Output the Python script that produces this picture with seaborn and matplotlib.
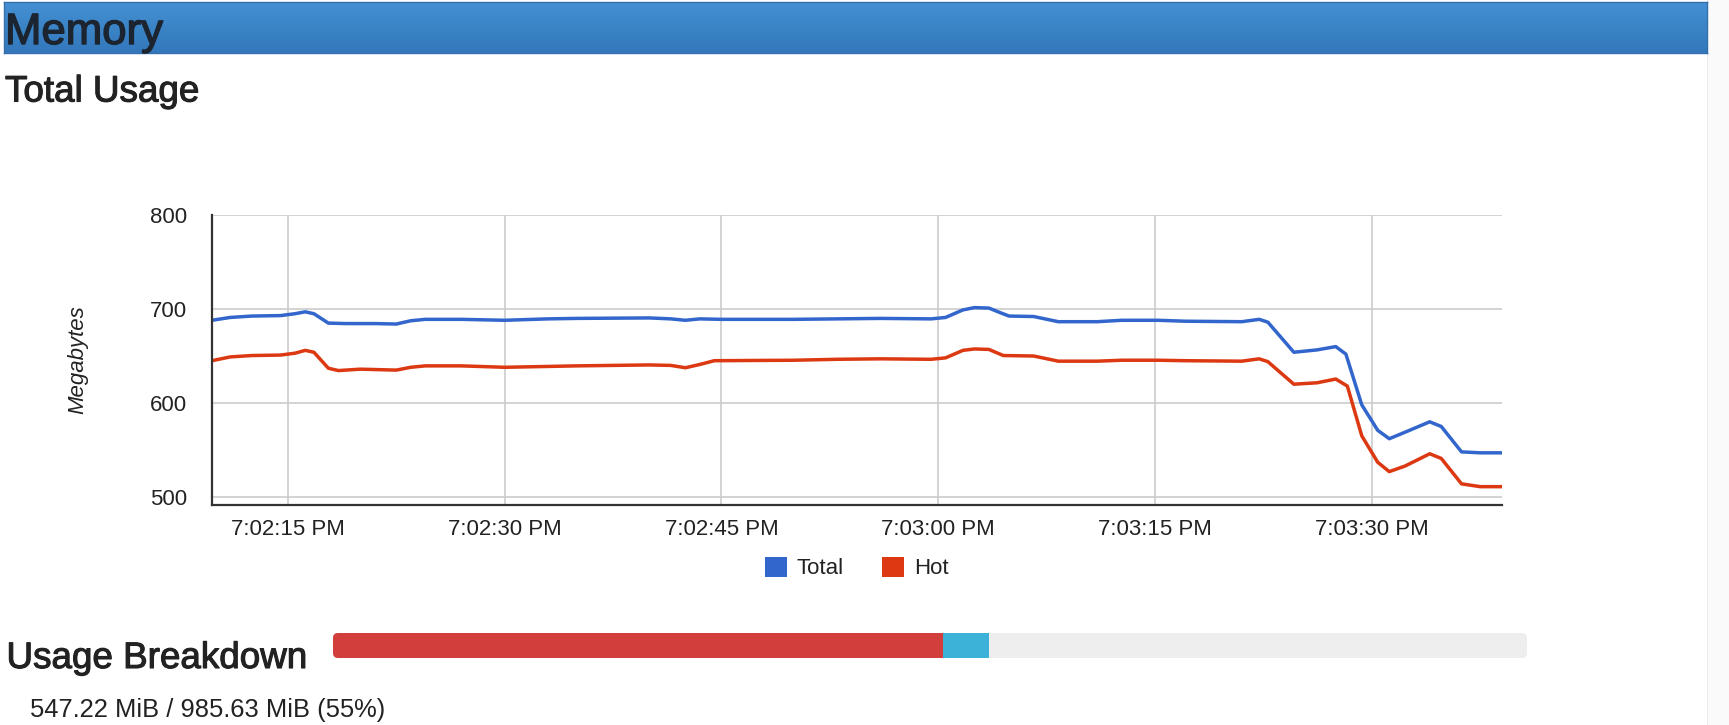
import numpy as np
import pandas as pd
import matplotlib
matplotlib.use("Agg")
import matplotlib.pyplot as plt
from matplotlib.patches import FancyBboxPatch, Patch
from matplotlib.colors import LinearSegmentedColormap
import matplotlib.patheffects as pe
import seaborn as sns

# ---------------- data ----------------
# seconds after 7:02:00 PM
total_secs = [9.75, 11, 12.5, 14.5, 15.5, 16.2, 16.8, 17.8, 19, 21, 22.5, 23.5, 24.5, 27, 30,
              33, 35, 40, 41.5, 42.5, 43.5, 45, 50, 53, 56, 59.5, 60.5, 61.7, 62.5, 63.5,
              64.3, 64.9, 66.6, 68.3, 71, 72.7, 75.2, 77.1, 81, 82.2, 82.8, 84.6, 86.2,
              87.5, 88.2, 89.3, 90.4, 91.2, 92.3, 94, 94.8, 96.2, 97.5, 99.0]
total_mb = [688, 691, 692.5, 693, 695, 697, 695, 685, 684.5, 684.5, 684, 687.5, 689, 689, 688,
            689.5, 690, 690.5, 689.5, 688, 689.5, 689, 689, 689.5, 690, 689.5, 691, 699, 701.5, 701,
            696, 692.5, 692, 686.5, 686.5, 688, 688, 687, 686.5, 689, 686, 654, 656.5,
            660, 652, 598, 571, 562, 569, 580, 575, 548, 547, 547]

hot_secs = [9.75, 11, 12.5, 14.5, 15.5, 16.2, 16.8, 17.8, 18.5, 20, 22.5, 23.5, 24.5, 27, 30,
            35, 40, 41.5, 42.5, 43.5, 44.5, 50, 53, 56, 59.5, 60.5, 61.7, 62.5, 63.5, 64.5,
            66.6, 68.3, 71, 72.7, 75.2, 77.1, 81, 82.2, 82.8, 84.6, 86.2, 87.5, 88.3, 89.3,
            90.4, 91.2, 92.3, 94, 94.8, 96.2, 97.5, 99.0]
hot_mb = [645, 649, 650.5, 651, 653, 656, 654, 637, 634.5, 636, 635, 638, 639.5, 639.5, 638,
          639.5, 640.5, 640, 637.5, 641, 645, 645.5, 646.5, 647, 646.5, 648, 656, 657.5, 657, 650.5,
          650, 644.5, 644.5, 645.5, 645.5, 645, 644.5, 647, 644, 620, 621.5, 625.5, 618, 565,
          537, 527, 533, 546, 541, 514, 511, 511]

tick_secs = [15, 30, 45, 60, 75, 90]
tick_labels = ["7:02:15 PM", "7:02:30 PM", "7:02:45 PM", "7:03:00 PM", "7:03:15 PM", "7:03:30 PM"]
y_ticks = [500, 600, 700, 800]

series_names = ["Total", "Hot"]
series_colors = ["#3366cc", "#dc3912"]

used_mib = 547.22
capacity_mib = 985.63
used_pct = 55
breakdown_mib = [503.4, 38.2]
breakdown_colors = ["#d13e3b", "#3db2d9"]

# ---------------- style ----------------
sns.set_style("white")
plt.rcParams["font.family"] = ["Liberation Sans", "DejaVu Sans"]

W, H = 1729, 725
fig = plt.figure(figsize=(W / 100, H / 100), dpi=100)
fig.patch.set_facecolor("white")


def fx(x):
    return x / W


def fy(y):
    return 1 - y / H


# faint page edge on the right
edge_ax = fig.add_axes([fx(1707), 0, fx(W - 1707), 1])
edge_ax.set_facecolor("#fafafa")
edge_ax.set_xticks([]); edge_ax.set_yticks([])
for s in edge_ax.spines.values():
    s.set_visible(False)
edge_ax.axvline(0, color="#eeeeee", lw=1)

# header band with gradient
hdr = fig.add_axes([fx(4), fy(53), fx(1703), 51 / H])
cmap = LinearSegmentedColormap.from_list("hdr", ["#4590d3", "#3a84c6", "#3478bc"])
hdr.imshow(np.linspace(0, 1, 64).reshape(-1, 1), aspect="auto", cmap=cmap,
           extent=[0, 1, 0, 1], origin="upper")
hdr.set_xticks([]); hdr.set_yticks([])
for s in hdr.spines.values():
    s.set_color("#3570ad")
    s.set_linewidth(1)


def heavy(color, w):
    return [pe.withStroke(linewidth=w, foreground=color)]


fig.text(fx(5), fy(44), "Memory", fontsize=31.5, color="#1c2430", va="baseline", ha="left",
         path_effects=heavy("#1c2430", 1.0))
fig.text(fx(5), fy(101.5), "Total Usage", fontsize=26.5, color="#222222", va="baseline", ha="left",
         path_effects=heavy("#222222", 0.8))
fig.text(fx(6.5), fy(668), "Usage Breakdown", fontsize=26.5, color="#222222", va="baseline", ha="left",
         path_effects=heavy("#222222", 0.8))
fig.text(fx(30), fy(717), f"{used_mib:.2f} MiB / {capacity_mib:.2f} MiB ({used_pct}%)",
         fontsize=18.4, color="#222222", va="baseline", ha="left")

# ---------------- main chart ----------------
ax = fig.add_axes([fx(212), fy(505), fx(1290), 290 / H])
df = pd.concat([
    pd.DataFrame({"sec": total_secs, "mb": total_mb, "series": series_names[0]}),
    pd.DataFrame({"sec": hot_secs, "mb": hot_mb, "series": series_names[1]}),
])
sns.lineplot(data=df, x="sec", y="mb", hue="series", hue_order=series_names,
             palette=dict(zip(series_names, series_colors)), linewidth=2.5,
             legend=False, ax=ax, zorder=3)
for ln in ax.lines:
    ln.set_solid_joinstyle("round")
    ln.set_solid_capstyle("round")

ax.set_xlim(9.75, 99.0)
ax.set_ylim(491.5, 800)
ax.set_xticks(tick_secs)
ax.set_xticklabels(tick_labels)
ax.set_yticks(y_ticks)
ax.set_xlabel("")
ax.set_ylabel("")
ax.grid(True, color="#cccccc", linewidth=1.2)
ax.set_axisbelow(True)
for side in ["top", "right"]:
    ax.spines[side].set_visible(False)
for side in ["left", "bottom"]:
    ax.spines[side].set_color("#333333")
    ax.spines[side].set_linewidth(1.6)
    ax.spines[side].set_zorder(4)
ax.tick_params(axis="both", length=0, labelsize=16, labelcolor="#222222")
ax.tick_params(axis="y", pad=18)
ax.tick_params(axis="x", pad=10)

fig.text(fx(78), fy(360), "Megabytes", rotation=90, fontsize=16, style="italic",
         color="#222222", ha="center", va="center")

handles = [Patch(facecolor=c, edgecolor="none") for c in series_colors]
fig.legend(handles, series_names, loc="center", bbox_to_anchor=(fx(856.5), fy(568)),
           ncol=2, frameon=False, fontsize=16, handlelength=1.0, handleheight=1.0,
           handletextpad=0.45, columnspacing=1.7, labelcolor="#222222")

# ---------------- usage breakdown bar ----------------
bx = fig.add_axes([fx(333), fy(658), fx(1194), 25 / H])
bx.set_xlim(0, capacity_mib)
bx.set_ylim(0, 1)
bx.axis("off")
r_x = 5 / 1194 * capacity_mib
bg = FancyBboxPatch((0, 0), capacity_mib, 1, boxstyle=f"round,pad=0,rounding_size={r_x}",
                    mutation_aspect=(5 / 25) / r_x, facecolor="#eeeeee", edgecolor="none")
bx.add_patch(bg)
left = 0
for val, col in zip(breakdown_mib, breakdown_colors):
    bars = bx.barh(0.5, val, left=left, height=1, color=col, edgecolor="none")
    for b in bars:
        b.set_clip_path(bg)
    left += val

fig.savefig("out.png", dpi=100, facecolor="white")
